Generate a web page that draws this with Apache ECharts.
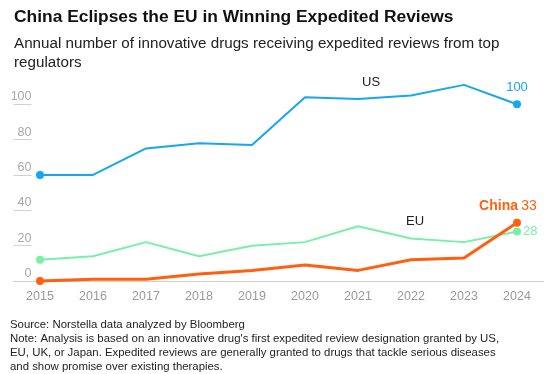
<!DOCTYPE html>
<html><head><meta charset="utf-8">
<script src="https://cdn.jsdelivr.net/npm/echarts@6/dist/echarts.min.js"></script>
<style>html,body{margin:0;padding:0;background:#fff}#c{width:550px;height:374px}</style>
</head><body><div id="c"></div>
<script>
var years = ['2015','2016','2017','2018','2019','2020','2021','2022','2023','2024'];
var usValues = [60, 60, 75, 78, 77, 104, 103, 105, 111, 100];
var euValues = [12, 14, 22, 14, 20, 22, 31, 24, 22, 28];
var chinaValues = [0, 1, 1, 4, 6, 9, 6, 12, 13, 33];
var yTicks = [0, 20, 40, 60, 80, 100];

var FONT = '"Liberation Sans", Arial, sans-serif';
var C_US = '#16a6f2', C_EU = '#78f0a6', C_CN = '#ff5f0f';

function endSize(v, p) { return (p.dataIndex === 0 || p.dataIndex === years.length - 1) ? 8 : 0; }

var chart = echarts.init(document.getElementById('c'), null, {renderer: 'canvas'});
chart.setOption({
  animation: false,
  textStyle: {fontFamily: FONT},
  title: [
    {text: 'China Eclipses the EU in Winning Expedited Reviews', left: 9, top: 4,
     textStyle: {fontFamily: FONT, fontWeight: 'bold', fontSize: 17.4, color: '#111'}},
    {text: 'Annual number of innovative drugs receiving expedited reviews from top\nregulators', left: 9, top: 29,
     textStyle: {fontFamily: FONT, fontWeight: 'normal', fontSize: 15.2, lineHeight: 19, color: '#222'}}
  ],
  grid: {left: 13.5, right: 6.5, top: 104.3, bottom: 93},
  xAxis: {
    type: 'category', data: years, boundaryGap: true,
    axisLine: {lineStyle: {color: '#d0d0d0', width: 1}},
    axisTick: {alignWithLabel: true, length: 5, lineStyle: {color: '#d0d0d0'}},
    axisLabel: {color: '#9a9a9a', fontSize: 12.5, margin: 9, fontFamily: FONT}
  },
  yAxis: {
    type: 'value', min: 0, max: 100, interval: 20,
    axisLine: {show: false},
    splitLine: {show: false},
    axisTick: {show: true, inside: true, length: 18, lineStyle: {color: '#d0d0d0'}},
    axisLabel: {inside: true, align: 'right', verticalAlign: 'bottom', margin: 18,
      padding: [0, 0, 1, 0], color: '#a8a8a8', fontSize: 12.5, fontFamily: FONT,
      formatter: function (v) { return yTicks.indexOf(v) >= 0 ? String(v) : ''; }}
  },
  series: [
    {name: 'EU', type: 'line', data: euValues, clip: false, z: 2,
     lineStyle: {color: C_EU, width: 2}, itemStyle: {color: C_EU},
     symbol: 'circle', symbolSize: endSize, showAllSymbol: true,
     label: {show: true, position: 'right', distance: 2, color: C_EU, fontSize: 13, fontFamily: FONT,
       formatter: function (p) { return p.dataIndex === years.length - 1 ? String(p.value) : ''; }}},
    {name: 'US', type: 'line', data: usValues, clip: false, z: 3,
     lineStyle: {color: C_US, width: 2}, itemStyle: {color: C_US},
     symbol: 'circle', symbolSize: endSize, showAllSymbol: true,
     label: {show: true, position: 'top', distance: 6, color: C_US, fontSize: 13, fontFamily: FONT,
       formatter: function (p) { return p.dataIndex === years.length - 1 ? String(p.value) : ''; }}},
    {name: 'China', type: 'line', data: chinaValues, clip: false, z: 4,
     lineStyle: {color: C_CN, width: 3}, itemStyle: {color: C_CN},
     symbol: 'circle', symbolSize: endSize, showAllSymbol: true,
     label: {show: true, position: 'top', distance: 6, offset: [-9, 0], fontFamily: FONT,
       formatter: function (p) { return p.dataIndex === years.length - 1 ? '{b|China} {n|' + p.value + '}' : ''; },
       rich: {b: {fontWeight: 'bold', fontSize: 14, color: C_CN, fontFamily: FONT},
              n: {fontSize: 14, color: C_CN, fontFamily: FONT}}}}
  ],
  graphic: [
    {type: 'text', left: 362, top: 76, style: {text: 'US', fill: '#222', font: '13px ' + FONT}},
    {type: 'text', left: 406, top: 215, style: {text: 'EU', fill: '#222', font: '13px ' + FONT}},
    {type: 'text', left: 10, top: 318, style: {
      text: 'Source: Norstella data analyzed by Bloomberg\nNote: Analysis is based on an innovative drug\'s first expedited review designation granted by US,\nEU, UK, or Japan. Expedited reviews are generally granted to drugs that tackle serious diseases\nand show promise over existing therapies.',
      fill: '#222', font: '11.4px ' + FONT, lineHeight: 14}}
  ]
});
</script></body></html>
